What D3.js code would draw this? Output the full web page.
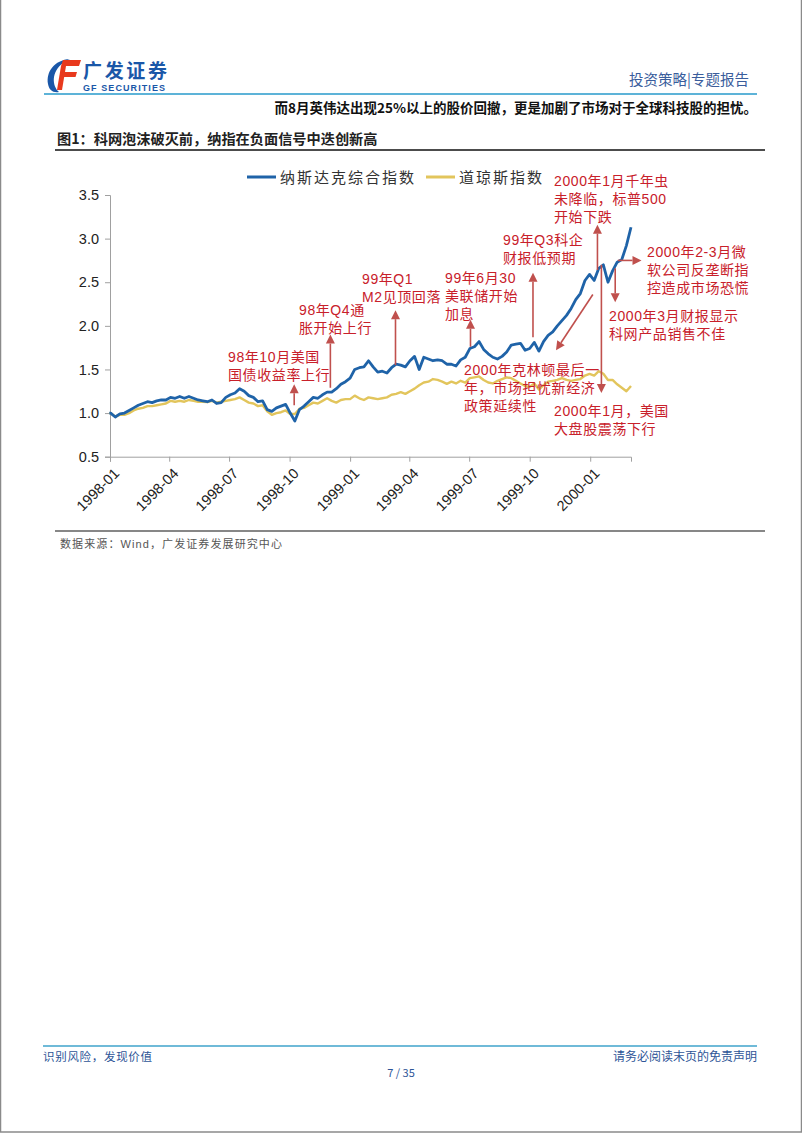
<!DOCTYPE html>
<html><head><meta charset="utf-8">
<script src="https://cdn.jsdelivr.net/npm/d3@7/dist/d3.min.js"></script>
<style>
body{margin:0;background:#fff;}
svg{display:block;}
</style></head><body>
<svg id="page" width="802" height="1133"></svg>
<script>
// ---------------- DATA ----------------
const dates = [
"1997-12-31","1998-01-02","1998-01-09","1998-01-16","1998-01-23","1998-01-30","1998-02-06","1998-02-13","1998-02-20","1998-02-27",
"1998-03-06","1998-03-13","1998-03-20","1998-03-27","1998-04-03","1998-04-10","1998-04-17","1998-04-24","1998-05-01","1998-05-08",
"1998-05-15","1998-05-22","1998-05-29","1998-06-05","1998-06-12","1998-06-19","1998-06-26","1998-07-03","1998-07-10","1998-07-17",
"1998-07-24","1998-07-31","1998-08-07","1998-08-14","1998-08-21","1998-08-28","1998-09-04","1998-09-11","1998-09-18","1998-09-25",
"1998-10-02","1998-10-09","1998-10-16","1998-10-23","1998-10-30","1998-11-06","1998-11-13","1998-11-20","1998-11-27","1998-12-04",
"1998-12-11","1998-12-18","1998-12-25","1999-01-01","1999-01-08","1999-01-15","1999-01-22","1999-01-29","1999-02-05","1999-02-12",
"1999-02-19","1999-02-26","1999-03-05","1999-03-12","1999-03-19","1999-03-26","1999-04-02","1999-04-09","1999-04-16","1999-04-23",
"1999-04-30","1999-05-07","1999-05-14","1999-05-21","1999-05-28","1999-06-04","1999-06-11","1999-06-18","1999-06-25","1999-07-02",
"1999-07-09","1999-07-16","1999-07-23","1999-07-30","1999-08-06","1999-08-13","1999-08-20","1999-08-27","1999-09-03","1999-09-10",
"1999-09-17","1999-09-24","1999-10-01","1999-10-08","1999-10-15","1999-10-22","1999-10-29","1999-11-05","1999-11-12","1999-11-19",
"1999-11-26","1999-12-03","1999-12-10","1999-12-17","1999-12-24","1999-12-31","2000-01-07","2000-01-14","2000-01-21","2000-01-28",
"2000-02-04","2000-02-11","2000-02-18","2000-02-25","2000-03-03"];

const nasdaq = [
1.00,1.00,0.955,0.99,1.00,1.03,1.06,1.09,1.11,1.13,
1.12,1.14,1.15,1.15,1.18,1.17,1.19,1.17,1.19,1.17,
1.15,1.14,1.13,1.15,1.11,1.12,1.18,1.21,1.23,1.28,
1.25,1.20,1.18,1.13,1.14,1.04,1.02,1.06,1.08,1.10,
1.00,0.91,1.04,1.08,1.13,1.18,1.17,1.21,1.24,1.24,
1.28,1.33,1.36,1.40,1.50,1.52,1.53,1.60,1.53,1.47,
1.48,1.46,1.52,1.56,1.55,1.53,1.60,1.65,1.50,1.64,
1.62,1.60,1.61,1.60,1.56,1.56,1.54,1.61,1.64,1.74,
1.76,1.82,1.73,1.68,1.64,1.62,1.65,1.70,1.78,1.79,
1.80,1.72,1.74,1.81,1.71,1.82,1.89,1.93,2.00,2.06,
2.12,2.20,2.30,2.37,2.52,2.59,2.52,2.66,2.70,2.50,
2.63,2.73,2.76,2.92,3.13];

const dow = [
1.00,1.00,0.96,0.98,0.98,1.00,1.03,1.05,1.06,1.08,
1.08,1.09,1.10,1.11,1.14,1.13,1.14,1.13,1.15,1.14,
1.13,1.13,1.125,1.14,1.12,1.13,1.14,1.15,1.16,1.18,
1.15,1.12,1.11,1.08,1.09,1.02,0.98,1.00,1.01,1.03,
0.99,0.99,1.05,1.06,1.09,1.12,1.11,1.14,1.17,1.14,
1.12,1.15,1.16,1.16,1.20,1.17,1.15,1.18,1.17,1.16,
1.17,1.18,1.21,1.22,1.24,1.22,1.25,1.28,1.32,1.35,
1.36,1.39,1.38,1.36,1.335,1.36,1.34,1.37,1.35,1.40,
1.41,1.42,1.38,1.35,1.34,1.37,1.39,1.41,1.40,1.37,
1.34,1.31,1.30,1.34,1.27,1.32,1.36,1.37,1.38,1.40,
1.38,1.37,1.38,1.39,1.43,1.45,1.43,1.48,1.45,1.38,
1.38,1.33,1.29,1.25,1.31];

const seriesNames = ["纳斯达克综合指数","道琼斯指数"];
const yTickValues = [0.5,1.0,1.5,2.0,2.5,3.0,3.5];
const xTickLabels = ["1998-01","1998-04","1998-07","1998-10","1999-01","1999-04","1999-07","1999-10","2000-01"];

// annotation arrows: [fromDate, fromValue, toDate, toValue]
const arrowData = [
 ["1998-10-08",1.09,"1998-10-08",1.33],
 ["1998-12-02",1.29,"1998-12-02",1.90],
 ["1999-03-11",1.55,"1999-03-11",2.18],
 ["1999-07-03",1.76,"1999-07-03",2.07],
 ["1999-10-06",1.87,"1999-10-06",2.61],
 ["2000-01-12",2.64,"2000-01-12",3.16],
 ["2000-02-12",2.75,"2000-03-19",2.75],
 ["2000-02-08",2.66,"2000-02-08",2.27],
 ["2000-01-05",2.36,"1999-11-10",1.72],
 ["2000-01-18",2.70,"2000-01-18",1.23]
];
const annotationTexts = [
 ["98年10月美国","国债收益率上行"],
 ["98年Q4通","胀开始上行"],
 ["99年Q1","M2见顶回落"],
 ["99年6月30","美联储开始","加息"],
 ["99年Q3科企","财报低预期"],
 ["2000年1月千年虫","未降临，标普500","开始下跌"],
 ["2000年2-3月微","软公司反垄断指","控造成市场恐慌"],
 ["2000年3月财报显示","科网产品销售不佳"],
 ["2000年克林顿最后一","年，市场担忧新经济","政策延续性"],
 ["2000年1月，美国","大盘股震荡下行"]
];

// ---------------- LAYOUT ----------------
const svg = d3.select("#page");
const CJK = "'Liberation Sans','Noto Sans CJK SC',sans-serif";
const parse = d3.timeParse("%Y-%m-%d");
const parseM = d3.timeParse("%Y-%m");

// page border
svg.append("rect").attr("x",0.5).attr("y",-1).attr("width",801).attr("height",1133)
  .attr("fill","none").attr("stroke","#8a8a8a").attr("stroke-width",1.5);

// logo
const logo = svg.append("g");
logo.append("path").attr("d","M70,59 C54,60 46,72 48,84 C49,90 53,93 59,92 C52,86 51,72 63,63 C65,61 67,60 70,59 Z").attr("fill","#1a57a8");
logo.append("path").attr("d","M63,60 L81,60 L79,66 L61,66 Z").attr("fill","#e8391d");
logo.append("path").attr("d","M61,66 L66,66 L62,90 L57,90 Z").attr("fill","#e8391d");
logo.append("path").attr("d","M63,72 L77,72 L75.5,77 L62,77 Z").attr("fill","#e8391d");
logo.append("text").attr("x",83).attr("y",78).attr("font-family","'Noto Sans CJK SC',sans-serif")
  .attr("font-weight","bold").attr("font-size",19).attr("fill","#1a57a8").attr("textLength",84).text("广发证券");
logo.append("text").attr("x",83).attr("y",91).attr("font-family","'Liberation Sans',sans-serif")
  .attr("font-weight","bold").attr("font-size",9).attr("fill","#1a57a8").attr("textLength",82).text("GF SECURITIES");

svg.append("text").attr("x",749).attr("y",85).attr("text-anchor","end")
  .attr("font-family","'Noto Sans CJK SC',sans-serif").attr("font-size",14.5).attr("fill","#3a5d9c").text("投资策略|专题报告");
svg.append("line").attr("x1",44).attr("x2",757).attr("y1",94).attr("y2",94).attr("stroke","#5db3d8").attr("stroke-width",2);

svg.append("text").attr("x",757).attr("y",113).attr("text-anchor","end")
  .attr("font-family","'Noto Sans CJK SC',sans-serif").attr("font-weight","bold").attr("font-size",13.5).attr("fill","#111")
  .text("而8月英伟达出现25%以上的股价回撤，更是加剧了市场对于全球科技股的担忧。");

svg.append("text").attr("x",57).attr("y",144)
  .attr("font-family","'Noto Sans CJK SC',sans-serif").attr("font-weight","bold").attr("font-size",14.2).attr("fill","#222")
  .text("图1：科网泡沫破灭前，纳指在负面信号中迭创新高");
svg.append("line").attr("x1",55).attr("x2",765).attr("y1",150).attr("y2",150).attr("stroke","#111").attr("stroke-width",1.5);

// scales
const x = d3.scaleTime().domain([parse("1998-01-01"), parse("2000-03-03")]).range([110, 631]);
const y = d3.scaleLinear().domain([0.5, 3.5]).range([456.7, 195]);

// axes
const gy = svg.append("g").attr("transform","translate(110,0)")
  .call(d3.axisLeft(y).tickValues(yTickValues).tickFormat(d3.format(".1f")).tickSizeOuter(0).tickSize(5).tickPadding(6));
gy.selectAll("path,line").attr("stroke","#a0a0a0");
gy.selectAll("text").attr("font-family","'Liberation Sans',Arial,sans-serif").attr("font-size",14.5).attr("fill","#222");

const gx = svg.append("g").attr("transform","translate(0,456.7)")
  .call(d3.axisBottom(x).tickValues(xTickLabels.map(parseM)).tickFormat(d3.timeFormat("%Y-%m")).tickSizeOuter(0).tickSize(5));
gx.selectAll("path,line").attr("stroke","#a0a0a0");
gx.selectAll("text").attr("font-family","'Liberation Sans',Arial,sans-serif").attr("font-size",14.5).attr("fill","#222")
  .attr("text-anchor","end").attr("dy",0).attr("transform","translate(4,12) rotate(-45)");

// lines
const pts = dates.map((d,i)=>({d:parse(d), n:nasdaq[i], w:dow[i]}));
const lineN = d3.line().x(p=>x(p.d)).y(p=>y(p.n));
const lineW = d3.line().x(p=>x(p.d)).y(p=>y(p.w));
svg.append("path").datum(pts).attr("d",lineW).attr("fill","none").attr("stroke","#e2c55c").attr("stroke-width",2.4).attr("stroke-linejoin","round");
svg.append("path").datum(pts).attr("d",lineN).attr("fill","none").attr("stroke","#1f63a8").attr("stroke-width",2.8).attr("stroke-linejoin","round");

// legend
const leg = svg.append("g");
const legColors = ["#1f63a8","#e2c55c"];
const legX = [247, 426];
seriesNames.forEach((nm,i)=>{
  leg.append("line").attr("x1",legX[i]).attr("x2",legX[i]+29).attr("y1",177).attr("y2",177)
    .attr("stroke",legColors[i]).attr("stroke-width",3);
  leg.append("text").attr("x",legX[i]+33).attr("y",182.5).attr("font-family","'Noto Sans CJK SC',sans-serif")
    .attr("font-size",15).attr("letter-spacing",2).attr("fill","#333").text(nm);
});

// annotation arrows
const arrowCol = "#c0504d";
arrowData.forEach(a=>{
  const x1=x(parse(a[0])), y1=y(a[1]), x2=x(parse(a[2])), y2=y(a[3]);
  const ang = Math.atan2(y2-y1, x2-x1);
  const L=9, W=4.5;
  const bx = x2 - L*Math.cos(ang), by = y2 - L*Math.sin(ang);
  svg.append("line").attr("x1",x1).attr("y1",y1).attr("x2",bx).attr("y2",by).attr("stroke",arrowCol).attr("stroke-width",1.6);
  const px = -Math.sin(ang)*W, py = Math.cos(ang)*W;
  svg.append("path").attr("d",`M${x2},${y2} L${bx+px},${by+py} L${bx-px},${by-py} Z`).attr("fill",arrowCol);
});

// annotation texts (layout positions)
const textPos = [[228,362],[299,315],[362,284],[445,283],[503,245],[554,186],[647,257],[609,321],[464,375],[554,416]];
annotationTexts.forEach((lines,i)=>{
  const t = svg.append("text").attr("font-family",CJK).attr("font-size",14).attr("fill","#c8202a").attr("letter-spacing",0.6);
  lines.forEach((s,j)=>{
    t.append("tspan").attr("x",textPos[i][0]).attr("y",textPos[i][1]+j*18.2).text(s);
  });
});

// bottom rule & source
svg.append("line").attr("x1",55).attr("x2",765).attr("y1",531).attr("y2",531).attr("stroke","#111").attr("stroke-width",1.2);
svg.append("text").attr("x",60).attr("y",548).attr("font-family",CJK).attr("font-size",11).attr("letter-spacing",1.1).attr("fill","#555")
  .text("数据来源：Wind，广发证券发展研究中心");

// footer
svg.append("line").attr("x1",43).attr("x2",757).attr("y1",1046).attr("y2",1046).attr("stroke","#6fbad8").attr("stroke-width",2);
svg.append("text").attr("x",43).attr("y",1061).attr("font-family","'Noto Sans CJK SC',sans-serif").attr("font-size",11.5).attr("fill","#2e5597").attr("textLength",109).text("识别风险，发现价值");
svg.append("text").attr("x",757).attr("y",1061).attr("text-anchor","end").attr("font-family","'Noto Sans CJK SC',sans-serif").attr("font-size",12).attr("fill","#2e5597").text("请务必阅读末页的免责声明");
svg.append("text").attr("x",401).attr("y",1077).attr("text-anchor","middle").attr("font-family","'Noto Sans CJK SC',sans-serif").attr("font-size",11).attr("fill","#2e5597").text("7 / 35");
</script>
</body></html>
